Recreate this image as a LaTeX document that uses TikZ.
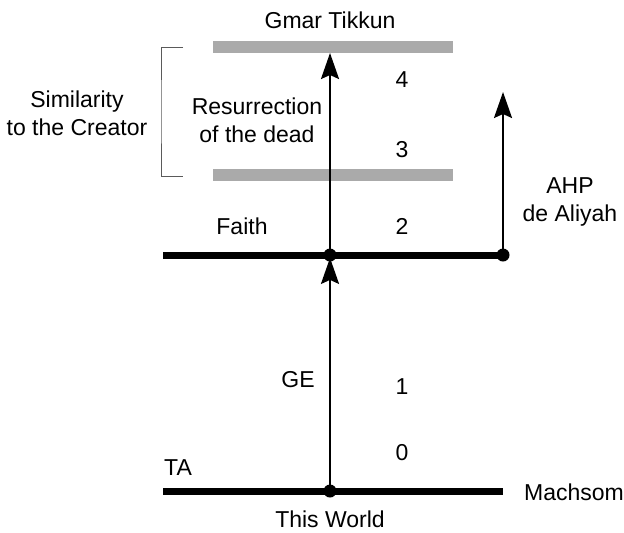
\documentclass[tikz,border=0pt]{standalone}
\usepackage{fontspec}
\setmainfont{Liberation Sans}
\definecolor{barGray}{RGB}{170,170,170}
\definecolor{brkGray}{RGB}{90,90,90}
\usetikzlibrary{arrows.meta,positioning}

\begin{document}
\begin{tikzpicture}[x=0.5pt,y=-0.5pt,font=\fontsize{11.5}{14}\selectfont,
  lbl/.style={align=center,inner sep=1pt},
  level/.style={line width=3.5pt},
  bar/.style={line width=6pt,barGray},
  up/.style={line width=1pt,-{Stealth[length=13pt,width=9pt,inset=2pt]}},
  dot/.style={circle,fill=black,inner sep=0pt,minimum size=6.5pt}]
  \useasboundingbox (0,0) rectangle (624,532);
  % levels
  \coordinate (twL) at (163,491); \coordinate (twR) at (503,491);
  \coordinate (fL) at (163,255); \coordinate (fR) at (503,255);
  \draw[level] (twL) -- (twR);
  \draw[level] (fL) -- (fR);
  \coordinate (b3L) at (213,175); \coordinate (b3R) at (453,175);
  \coordinate (b4L) at (213,47); \coordinate (b4R) at (453,47);
  \draw[bar] (b3L) -- (b3R);
  \draw[bar] (b4L) -- (b4R);
  \node[dot] (tw) at (330,491) {};
  \node[dot] (fa) at (330,255) {};
  \node[dot] (ahp) at (503,255) {};
  \coordinate (top) at (330,53);
  \coordinate (ahpTop) at (503,92);
  \draw[up] (tw.center) -- ([yshift=2pt]fa.south);
  \draw[up] (fa.center) -- (top);
  \draw[up] (ahp.center) -- (ahpTop);
  % bracket
  \coordinate (brT) at (183,47); \coordinate (brB) at (183,176);
  \draw[brkGray,line width=0.5pt] (brT) -| (161,111.5) |- (brB);
  % labels
  \node[lbl] (gt) at (330,20) {Gmar Tikkun};
  \node[lbl] (n4) at (402,80) {4};
  \node[lbl] (n3) at (402,150) {3};
  \node[lbl] (res) at (257,120) {Resurrection\\of the dead};
  \node[lbl] (sim) at (77,113) {Similarity\\to the Creator};
  \node[lbl] (faith) at (242,226) {Faith};
  \node[lbl] (n2) at (402,226) {2};
  \node[lbl] (aliyah) at (570,202) {AHP\\de Aliyah};
  \node[lbl] (ge) at (298,380) {GE};
  \node[lbl] (n1) at (402,387) {1};
  \node[lbl] (n0) at (402,453) {0};
  \node[lbl] (ta) at (178,468) {TA};
  \node[lbl] (mach) at (574,492) {Machsom};
  \node[lbl] (world) at (330,519) {This World};
\end{tikzpicture}
\end{document}
